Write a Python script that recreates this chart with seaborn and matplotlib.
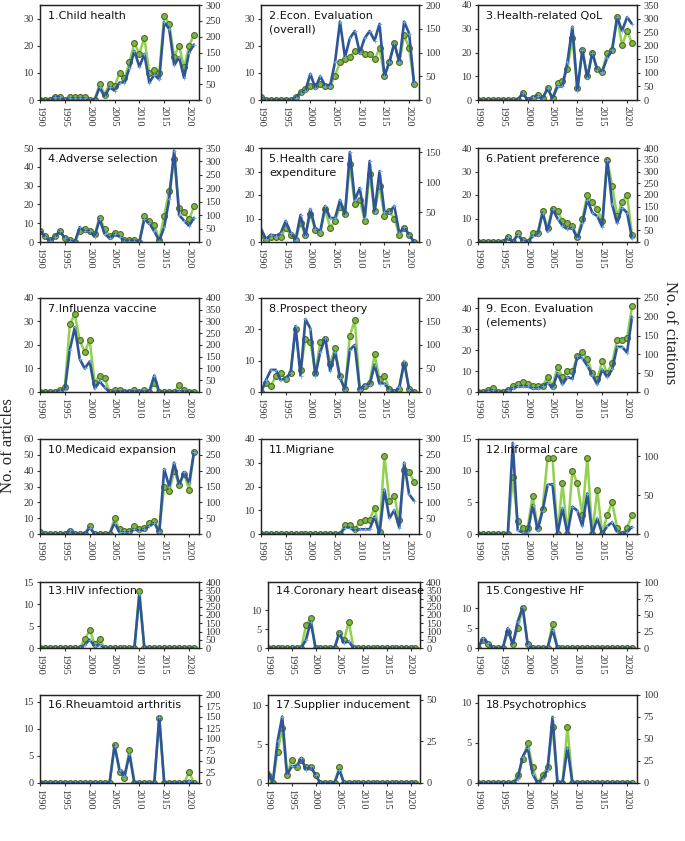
import matplotlib
matplotlib.use("Agg")
import matplotlib.pyplot as plt
import seaborn as sns

# years on the x axis
years = list(range(1990, 2022))

# green = No. of articles (left axis), blue = No. of citations (right axis)
art_1 = [0, 0, 0, 1, 1, 0, 1, 1, 1, 1, 0, 0, 6, 2, 6, 5, 10, 8, 14, 21, 17, 23, 10, 11, 10, 31, 28, 16, 20, 12, 20, 24]
cit_1 = [0, 0, 0, 10, 8, 0, 5, 5, 5, 5, 0, 0, 40, 10, 40, 30, 55, 55, 100, 155, 105, 145, 55, 80, 65, 245, 225, 110, 135, 70, 150, 175]

art_2 = [1, 0, 0, 0, 0, 0, 0, 1, 3, 4, 5, 5, 6, 5, 5, 9, 14, 15, 16, 18, 18, 17, 17, 15, 19, 9, 14, 21, 14, 24, 19, 6]
cit_2 = [5, 0, 0, 0, 0, 0, 0, 5, 15, 20, 55, 25, 50, 30, 30, 80, 165, 90, 130, 145, 100, 130, 145, 125, 160, 50, 80, 120, 80, 165, 140, 35]

art_3 = [0, 0, 0, 0, 0, 0, 0, 0, 0, 3, 0, 1, 2, 1, 5, 1, 7, 8, 13, 26, 5, 21, 10, 20, 13, 12, 20, 21, 35, 23, 29, 24]
cit_3 = [0, 0, 0, 0, 0, 0, 0, 0, 0, 25, 0, 10, 15, 5, 43, 5, 50, 50, 140, 270, 35, 185, 80, 175, 110, 105, 155, 185, 305, 255, 305, 280]

art_4 = [6, 3, 1, 3, 6, 2, 1, 0, 6, 7, 6, 4, 13, 7, 3, 5, 4, 1, 1, 1, 0, 14, 11, 9, 1, 14, 27, 44, 18, 16, 12, 19]
cit_4 = [45, 20, 5, 20, 40, 15, 5, 0, 55, 40, 40, 20, 85, 30, 15, 30, 20, 5, 5, 5, 0, 85, 70, 40, 5, 55, 160, 340, 100, 80, 60, 90]

art_5 = [3, 1, 2, 2, 2, 6, 3, 1, 8, 3, 12, 5, 4, 14, 6, 9, 15, 12, 33, 16, 18, 9, 29, 13, 24, 11, 13, 10, 3, 6, 3, 0]
cit_5 = [22, 5, 12, 10, 15, 35, 15, 3, 45, 10, 55, 22, 18, 60, 40, 40, 70, 45, 150, 70, 90, 40, 135, 50, 118, 50, 50, 60, 15, 25, 12, 0]

art_6 = [0, 0, 0, 0, 0, 0, 2, 0, 4, 1, 0, 4, 4, 13, 6, 14, 13, 9, 8, 7, 2, 10, 20, 17, 14, 9, 35, 24, 11, 17, 20, 3]
cit_6 = [0, 0, 0, 0, 0, 0, 20, 0, 30, 5, 0, 25, 30, 125, 45, 140, 100, 70, 55, 60, 15, 80, 180, 125, 110, 65, 350, 160, 80, 145, 125, 15]

art_7 = [0, 0, 0, 0, 1, 2, 29, 33, 22, 17, 22, 4, 7, 6, 0, 1, 1, 0, 0, 1, 0, 1, 0, 4, 0, 0, 0, 0, 3, 1, 0, 0]
cit_7 = [0, 0, 0, 0, 5, 10, 180, 275, 140, 100, 130, 15, 45, 20, 0, 2, 2, 2, 2, 2, 2, 2, 2, 70, 0, 0, 0, 0, 5, 2, 0, 0]

art_8 = [0, 3, 2, 5, 6, 4, 6, 20, 7, 17, 16, 6, 16, 17, 9, 14, 5, 1, 18, 23, 1, 2, 3, 12, 4, 5, 1, 0, 1, 9, 1, 0]
cit_8 = [0, 25, 47, 47, 25, 30, 40, 140, 35, 155, 135, 35, 85, 115, 45, 85, 30, 5, 90, 100, 5, 15, 15, 58, 18, 18, 5, 0, 10, 65, 5, 0]

art_9 = [0, 0, 1, 2, 0, 0, 1, 3, 4, 5, 4, 3, 3, 3, 7, 3, 12, 7, 10, 10, 17, 19, 16, 9, 6, 15, 9, 14, 25, 25, 26, 41]
cit_9 = [0, 0, 3, 5, 0, 0, 5, 10, 15, 15, 15, 10, 10, 15, 25, 10, 50, 20, 40, 35, 95, 90, 70, 45, 20, 60, 40, 60, 120, 120, 105, 200]

art_10 = [1, 0, 0, 0, 0, 0, 2, 0, 0, 0, 5, 0, 0, 0, 0, 10, 3, 2, 2, 5, 3, 4, 7, 8, 2, 30, 27, 40, 31, 38, 28, 52]
cit_10 = [5, 0, 0, 0, 0, 0, 12, 0, 0, 0, 20, 0, 0, 0, 0, 35, 5, 5, 5, 15, 10, 15, 25, 35, 5, 205, 150, 225, 155, 195, 160, 260]

art_11 = [0] * 17 + [4, 4, 2, 5, 6, 6, 11, 1, 33, 14, 16, 6, 27, 26, 22]
cit_11 = [0] * 17 + [20, 20, 10, 15, 15, 15, 55, 0, 140, 50, 75, 20, 225, 125, 105]

art_12 = [0, 0, 0, 0, 0, 0, 0, 9, 2, 1, 1, 6, 1, 4, 12, 12, 0, 8, 0, 10, 8, 3, 12, 0, 7, 0, 3, 5, 1, 0, 1, 3]
cit_12 = [0, 0, 0, 0, 0, 0, 0, 117, 5, 2, 2, 37, 5, 30, 63, 64, 0, 33, 0, 35, 30, 10, 52, 0, 20, 0, 10, 15, 3, 0, 3, 9]

art_13 = [0, 0, 0, 0, 0, 0, 0, 0, 0, 2, 4, 1, 2, 0, 0, 0, 0, 0, 0, 0, 13, 0, 0, 0, 0, 0, 0, 0, 0, 0, 0, 0]
cit_13 = [0, 0, 0, 0, 0, 0, 0, 0, 0, 20, 50, 10, 20, 0, 0, 0, 0, 0, 0, 0, 325, 0, 0, 0, 0, 0, 0, 0, 0, 0, 0, 0]

art_14 = [0, 0, 0, 0, 0, 0, 0, 0, 6, 8, 0, 0, 0, 0, 0, 4, 2, 7, 0, 0, 0, 0, 0, 0, 0, 0, 0, 0, 0, 0, 0, 0]
cit_14 = [0, 0, 0, 0, 0, 0, 0, 0, 50, 160, 0, 0, 0, 0, 0, 90, 30, 40, 0, 0, 0, 0, 0, 0, 0, 0, 0, 0, 0, 0, 0, 0]

art_15 = [0, 2, 1, 0, 0, 0, 4, 1, 5, 10, 1, 0, 0, 0, 0, 6, 0, 0, 0, 0, 0, 0, 0, 0, 0, 0, 0, 0, 0, 0, 0, 0]
cit_15 = [0, 15, 8, 0, 0, 0, 30, 5, 40, 62, 5, 0, 0, 0, 0, 28, 0, 0, 0, 0, 0, 0, 0, 0, 0, 0, 0, 0, 0, 0, 0, 0]

art_16 = [0] * 15 + [7, 2, 1, 6, 0, 0, 0, 0, 0, 12, 0, 0, 0, 0, 0, 2, 0]
cit_16 = [0] * 15 + [85, 30, 15, 65, 0, 0, 0, 0, 0, 150, 0, 0, 0, 0, 0, 5, 0]

art_17 = [1, 0, 4, 7, 1, 3, 2, 3, 2, 2, 1, 0, 0, 0, 0, 2, 0, 0, 0, 0, 0, 0, 0, 0, 0, 0, 0, 0, 0, 0, 0, 0]
cit_17 = [7, 0, 25, 40, 5, 10, 10, 15, 8, 10, 5, 0, 0, 0, 0, 8, 0, 0, 0, 0, 0, 0, 0, 0, 0, 0, 0, 0, 0, 0, 0, 0]

art_18 = [0, 0, 0, 0, 0, 0, 0, 0, 1, 3, 5, 2, 0, 1, 2, 7, 0, 0, 7, 0, 0, 0, 0, 0, 0, 0, 0, 0, 0, 0, 0, 0]
cit_18 = [0, 0, 0, 0, 0, 0, 0, 0, 5, 30, 40, 10, 0, 5, 15, 75, 0, 0, 40, 0, 0, 0, 0, 0, 0, 0, 0, 0, 0, 0, 0, 0]

titles = ["1.Child health", "2.Econ. Evaluation\n(overall)", "3.Health-related QoL",
          "4.Adverse selection", "5.Health care\nexpenditure", "6.Patient preference",
          "7.Influenza vaccine", "8.Prospect theory", "9. Econ. Evaluation\n(elements)",
          "10.Medicaid expansion", "11.Migriane", "12.Informal care",
          "13.HIV infection", "14.Coronary heart disease", "15.Congestive HF",
          "16.Rheuamtoid arthritis", "17.Supplier inducement", "18.Psychotrophics"]

articles = [art_1, art_2, art_3, art_4, art_5, art_6, art_7, art_8, art_9,
            art_10, art_11, art_12, art_13, art_14, art_15, art_16, art_17, art_18]
citations = [cit_1, cit_2, cit_3, cit_4, cit_5, cit_6, cit_7, cit_8, cit_9,
             cit_10, cit_11, cit_12, cit_13, cit_14, cit_15, cit_16, cit_17, cit_18]

# (left max, left step, last left tick, right max, right step)
axis_ranges = [(35, 10, 30, 300, 50), (35, 10, 30, 200, 50), (40, 10, 40, 350, 50),
               (50, 10, 50, 350, 50), (40, 10, 40, 157, 50), (40, 10, 40, 400, 50),
               (40, 10, 40, 400, 50), (30, 10, 30, 200, 50), (45, 10, 40, 250, 50),
               (60, 10, 60, 300, 50), (40, 10, 40, 300, 50), (15, 5, 15, 122, 50),
               (15, 5, 15, 400, 50), (17.5, 5, 10, 400, 50), (16.5, 5, 10, 100, 25),
               (16.2, 5, 15, 200, 25), (11.3, 5, 10, 53, 25), (11, 5, 10, 100, 25)]

sns.set_style("ticks")
plt.rcParams["font.family"] = ["DejaVu Sans"]

W, H = 685, 841
fig = plt.figure(figsize=(W / 100, H / 100), dpi=100)

rows = [(5, 100), (148, 242), (298, 392), (439, 534), (582, 648), (695, 783)]
cols_top = [(40, 199), (261, 419), (478, 637)]
cols_bot = [(40, 199), (268, 420), (478, 637)]

green = "#92d050"
green_face = "#7ab648"
green_edge = "#4f6b1e"
blue = "#2e5597"

for i in range(18):
    r, c = divmod(i, 3)
    top, bot = rows[r]
    left, right = (cols_top if r < 4 else cols_bot)[c]
    rect = [left / W, 1 - bot / H, (right - left) / W, (bot - top) / H]
    ax = fig.add_axes(rect)
    amax, astep, alast, cmax, cstep = axis_ranges[i]

    sns.lineplot(x=years, y=articles[i], ax=ax, color=green, linewidth=1.8,
                 marker="o", markersize=4.2, markerfacecolor=green_face,
                 markeredgecolor=green_edge, markeredgewidth=0.8)
    ax2 = ax.twinx()
    sns.lineplot(x=years, y=citations[i], ax=ax2, color=blue, linewidth=1.9,
                 marker="+", markersize=2.5, markeredgecolor="#6fa8dc",
                 markeredgewidth=0.6)

    ax.set_xlim(1990, 2022)
    ax.set_ylim(0, amax)
    ax2.set_ylim(0, cmax)
    ax.set_yticks(list(range(0, alast + 1, astep)))
    ax2.set_yticks(list(range(0, int(cmax) + 1, cstep)))
    ax.set_xticks(range(1990, 2021, 5))
    ax.set_xticklabels([str(y) for y in range(1990, 2021, 5)], rotation=-90,
                       fontfamily="Liberation Serif", fontsize=7.5)
    for lab in ax.get_yticklabels() + ax2.get_yticklabels():
        lab.set_fontfamily("Liberation Serif")
        lab.set_fontsize(7.5)
    ax.tick_params(axis="both", length=2.5, width=0.8, pad=2, colors="#333333")
    ax2.tick_params(axis="y", length=2.5, width=0.8, pad=2, colors="#333333")
    for sp in ax2.spines.values():
        sp.set_visible(True)
        sp.set_color("#222222")
        sp.set_linewidth(1.0)
    ax.set_xlabel("")
    ax.set_ylabel("")
    ax2.set_ylabel("")
    ax2.text(0.05, 0.94, titles[i], transform=ax.transAxes, ha="left", va="top",
             fontsize=8, color="#111111", linespacing=1.5, fontfamily="DejaVu Sans")

fig.text(0.012, 0.47, "No. of articles", rotation=90, ha="center", va="center",
         fontsize=12, fontfamily="Liberation Serif")
fig.text(0.978, 0.605, "No. of citations", rotation=-90, ha="center", va="center",
         fontsize=12, fontfamily="Liberation Serif")

fig.savefig("out.png", dpi=100)
